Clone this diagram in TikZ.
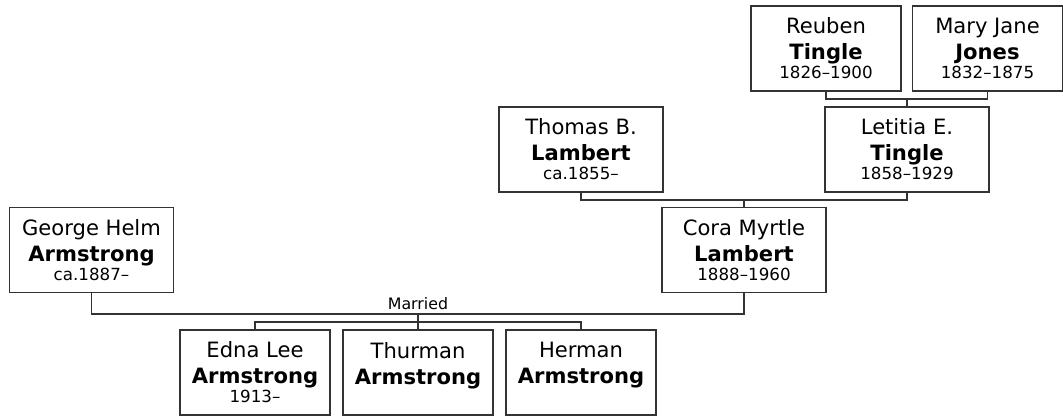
\documentclass[tikz,border=0pt]{standalone}
\usepackage{fontspec}
\setmainfont{DejaVu Sans}
\usepackage{tikz}
\tikzset{
  person/.style={draw=black!80, line width=0.85pt, fill=white, minimum width=3.28cm, minimum height=1.70cm, inner sep=0pt, align=center, font=\fontsize{12}{14.8}\selectfont},
  smallperson/.style={person, minimum width=3.00cm},
  link/.style={line width=0.85pt, draw=black!80, line cap=rect},
  yearsfont/.style={font=\fontsize{9}{10.5}\selectfont},
}
\newcommand{\yrs}[1]{\\[-4.0pt]{\fontsize{9.5}{10.5}\selectfont #1}}

\begin{document}
\begin{tikzpicture}
\useasboundingbox (0,0) rectangle (21.26,8.32);
\node[smallperson] (reuben) at (16.520,7.350) {Reuben\\\textbf{Tingle}\yrs{1826–1900}};
\node[smallperson] (maryjane) at (19.750,7.350) {Mary Jane\\\textbf{Jones}\yrs{1832–1875}};
\node[person] (thomas) at (11.620,5.330) {Thomas B.\\\textbf{Lambert}\yrs{ca.1855–}};
\node[person] (letitia) at (18.140,5.330) {Letitia E.\\\textbf{Tingle}\yrs{1858–1929}};
\node[person] (george) at (1.830,3.320) {George Helm\\\textbf{Armstrong}\yrs{ca.1887–}};
\node[person] (cora) at (14.880,3.320) {Cora Myrtle\\\textbf{Lambert}\yrs{1888–1960}};
\node[smallperson] (edna) at (5.100,0.870) {Edna Lee\\\textbf{Armstrong}\yrs{1913–}};
\node[smallperson] (thurman) at (8.360,0.870) {Thurman\\\textbf{Armstrong}\yrs{}};
\node[smallperson] (herman) at (11.620,0.870) {Herman\\\textbf{Armstrong}\yrs{}};
\coordinate (rmjoin) at (18.140,6.340);
\coordinate (tljoin) at (14.880,4.320);
\coordinate (gcjoin) at (8.360,2.040);
\coordinate (kidjoin) at (8.360,1.880);
\draw[link] (reuben.south) |- (rmjoin) -| (maryjane.south);
\draw[link] (rmjoin) -- (letitia.north);
\draw[link] (thomas.south) |- (tljoin) -| (letitia.south);
\draw[link] (tljoin) -- (cora.north);
\draw[link] (george.south) |- (gcjoin) -| (cora.south);
\draw[link] (gcjoin) -- (thurman.north);
\draw[link] (edna.north) |- (kidjoin) -| (herman.north);
\node[yearsfont, anchor=base, inner sep=0pt] (married) at (8.360,2.120) {Married};
\end{tikzpicture}
\end{document}
